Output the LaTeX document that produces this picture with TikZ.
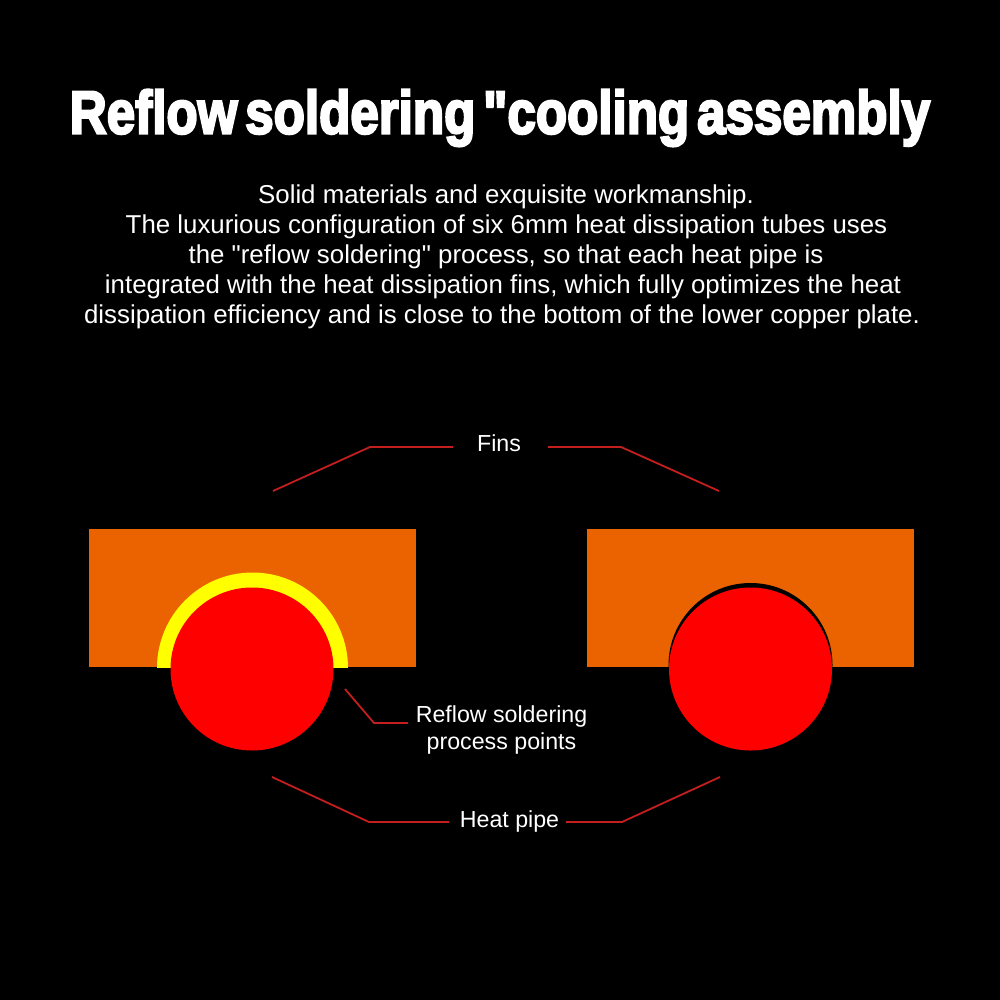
\documentclass[tikz,border=0pt]{standalone}
\usepackage{fontspec}
\setmainfont{Liberation Sans}
\newfontfamily\plainfont{Liberation Sans}
\newfontfamily\titlefont[FakeBold=4,WordSpace=0.55]{Liberation Sans Bold}
\definecolor{finorange}{HTML}{EB6300}
\definecolor{pipered}{HTML}{FF0000}
\definecolor{solderyellow}{HTML}{FFFF00}
\definecolor{leader}{HTML}{C41E1E}
\tikzset{
  px/.style={x=1pt,y=-1pt},
  fin/.style={fill=finorange,draw=none},
  pipe/.style={circle,fill=pipered,draw=none,inner sep=0pt,minimum size=163pt},
  leaderline/.style={draw=leader,line width=1.8pt,line join=round},
  body/.style={text=white,font=\plainfont\fontsize{25.85}{30}\selectfont,align=center,inner sep=0pt},
  lab/.style={text=white,font=\plainfont\fontsize{23.2}{27}\selectfont,align=center,inner sep=0pt}
}
\begin{document}
\begin{tikzpicture}[px]
\useasboundingbox (0,0) rectangle (1000,1000);
\fill[black] (0,0) rectangle (1000,1000);
\node[text=white,inner sep=0pt,anchor=base] (title) at (500,133.5)
  {\resizebox{860pt}{44pt}{\titlefont Reflow soldering "cooling assembly}};
\node[body] (intro) at (502,257) {\hspace*{8pt}Solid materials and exquisite workmanship.\\
 \hspace*{9pt}The luxurious configuration of six 6mm heat dissipation tubes uses\\
 \hspace*{8pt}the "reflow soldering" process, so that each heat pipe is\\
 \hspace*{2pt}integrated with the heat dissipation fins, which fully optimizes the heat\\
 dissipation efficiency and is close to the bottom of the lower copper plate.};

% left assembly
\fill[fin] (89,529) rectangle (416,667);
\begin{scope}
\clip (89,529) rectangle (416,667);
\fill[solderyellow] (252.5,668) circle[radius=95.5];
\end{scope}
\node[pipe] (pipeL) at (252,669) {};
% right assembly
\fill[fin] (587,529) rectangle (914,667);
\begin{scope}
\clip (587,529) rectangle (914,667);
\fill[black] (750.5,665) circle[radius=82];
\end{scope}
\node[pipe] (pipeR) at (750.5,669) {};

% labels
\node[lab] (fins) at (499,443) {Fins};
\node[lab] (reflow) at (501.5,730) {Reflow soldering\\ process points};
\node[lab] (heat) at (509.5,821) {Heat pipe};

% leader ends
\coordinate (fa) at (273,491); \coordinate (fb) at (370,447); \coordinate (fc) at (453,447);
\coordinate (fd) at (548,447); \coordinate (fe) at (621,447); \coordinate (ff) at (719,491);
\coordinate (ra) at (345,689); \coordinate (rb) at (374,723); \coordinate (rc) at (408,723);
\coordinate (ha) at (272,777); \coordinate (hb) at (369,822); \coordinate (hc) at (449,822);
\coordinate (hd) at (566,822); \coordinate (he) at (622,822); \coordinate (hf) at (720,777);
\draw[leaderline] (fa) -- (fb) -- (fc);
\draw[leaderline] (fd) -- (fe) -- (ff);
\draw[leaderline] (ra) -- (rb) -- (rc);
\draw[leaderline] (ha) -- (hb) -- (hc);
\draw[leaderline] (hd) -- (he) -- (hf);
\end{tikzpicture}
\end{document}
